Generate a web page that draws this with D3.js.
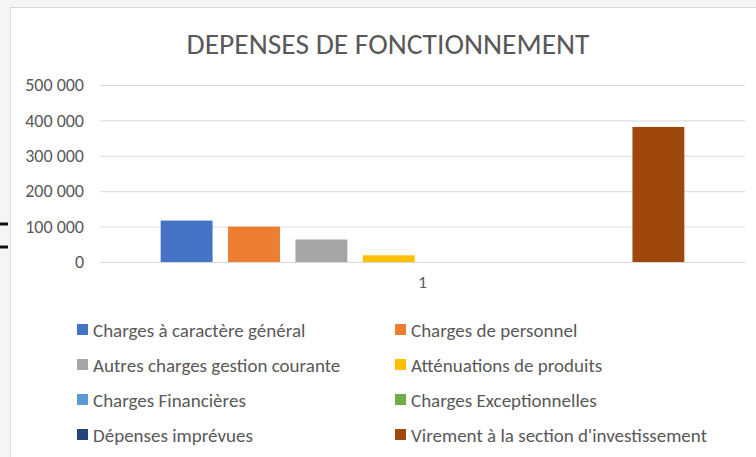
<!DOCTYPE html>
<html>
<head>
<meta charset="utf-8">
<script src="https://cdn.jsdelivr.net/npm/d3@7"></script>
<style>
  html, body { margin: 0; padding: 0; background: #f4f5f7; }
  #chart { width: 756px; height: 457px; }
</style>
</head>
<body>
<div id="chart"></div>
<script>
// Chart data
const categories = ["1"];
const seriesNames = [
    "Charges à caractère général",
    "Charges de personnel",
    "Autres charges gestion courante",
    "Atténuations de produits",
    "Charges Financières",
    "Charges Exceptionnelles",
    "Dépenses imprévues",
    "Virement à la section d'investissement"
];
const seriesValues = [117000, 100000, 63500, 19000, 0, 0, 0, 381500];
const seriesColors = ["#4472C4", "#ED7D31", "#A5A5A5", "#FFC000", "#5B9BD5", "#70AD47", "#264478", "#9E480E"];
const yTicks = [0, 100000, 200000, 300000, 400000, 500000];

const W = 756, H = 457;
const plot = { left: 100, right: 745, top: 85, bottom: 262 };
const font = "Calibri, Carlito, 'Open Sans', sans-serif";

const svg = d3.select("#chart")
    .append("svg")
    .attr("width", W)
    .attr("height", H);

// outer background and chart frame
svg.append("rect").attr("width", W).attr("height", H).attr("fill", "#f4f5f7");
svg.append("rect")
    .attr("x", 10.5).attr("y", 7.5)
    .attr("width", W).attr("height", H)
    .attr("fill", "#ffffff")
    .attr("stroke", "#d9d9d9");

// little black marks on the left edge
svg.selectAll(".mark")
    .data([224, 247])
    .enter()
    .append("rect")
    .attr("x", 0).attr("y", d => d - 1.5)
    .attr("width", 8).attr("height", 3)
    .attr("fill", "#111");

// Title
svg.append("text")
    .attr("x", 388)
    .attr("y", 54)
    .attr("text-anchor", "middle")
    .style("font-family", font)
    .style("font-size", "29.5px")
    .attr("fill", "#595959")
    .text("DEPENSES DE FONCTIONNEMENT");

// Scales
const yScale = d3.scaleLinear()
    .domain([0, 500000])
    .range([plot.bottom, plot.top]);

const x0 = d3.scaleBand()
    .domain(categories)
    .range([plot.left, plot.right])
    .padding(0);

const x1 = d3.scaleBand()
    .domain(seriesNames)
    .range([0, x0.bandwidth()])
    .paddingInner(0.23)
    .paddingOuter(0.9);

// Gridlines + y labels
const yAxis = svg.append("g")
    .attr("transform", "translate(" + plot.left + ",0)")
    .call(d3.axisLeft(yScale)
        .tickValues(yTicks)
        .tickSize(-(plot.right - plot.left))
        .tickPadding(16)
        .tickFormat(d => d3.format(",")(d).replace(/,/g, " ")));
yAxis.select(".domain").remove();
yAxis.selectAll("line").attr("stroke", "#d9d9d9");
yAxis.selectAll("text")
    .style("font-family", font)
    .style("font-size", "18px")
    .attr("fill", "#595959");

// Bars
const group = svg.selectAll(".cat")
    .data(categories)
    .enter()
    .append("g")
    .attr("class", "cat")
    .attr("transform", d => "translate(" + x0(d) + ",0)");

group.selectAll("rect")
    .data(seriesNames.map((s, i) => ({ name: s, value: seriesValues[i], color: seriesColors[i] })))
    .enter()
    .append("rect")
    .attr("x", d => x1(d.name))
    .attr("y", d => yScale(d.value))
    .attr("width", x1.bandwidth())
    .attr("height", d => yScale(0) - yScale(d.value))
    .attr("fill", d => d.color);

// x axis label
const xAxis = svg.append("g")
    .attr("transform", "translate(0," + plot.bottom + ")")
    .call(d3.axisBottom(x0).tickSize(0).tickPadding(14));
xAxis.select(".domain").remove();
xAxis.selectAll("text")
    .style("font-family", font)
    .style("font-size", "17px")
    .attr("fill", "#595959");

// Legend (two columns)
const legend = svg.selectAll(".legend")
    .data(seriesNames)
    .enter()
    .append("g")
    .attr("class", "legend")
    .attr("transform", (d, i) => "translate(" + (i % 2 === 0 ? 77 : 395) + "," + (329 + Math.floor(i / 2) * 35) + ")");

legend.append("rect")
    .attr("x", 0).attr("y", -5)
    .attr("width", 11).attr("height", 11)
    .attr("fill", (d, i) => seriesColors[i]);

legend.append("text")
    .attr("x", 16)
    .attr("y", 1)
    .attr("dy", "0.35em")
    .style("font-family", font)
    .style("font-size", "19px")
    .attr("fill", "#595959")
    .text(d => d);
</script>
</body>
</html>
